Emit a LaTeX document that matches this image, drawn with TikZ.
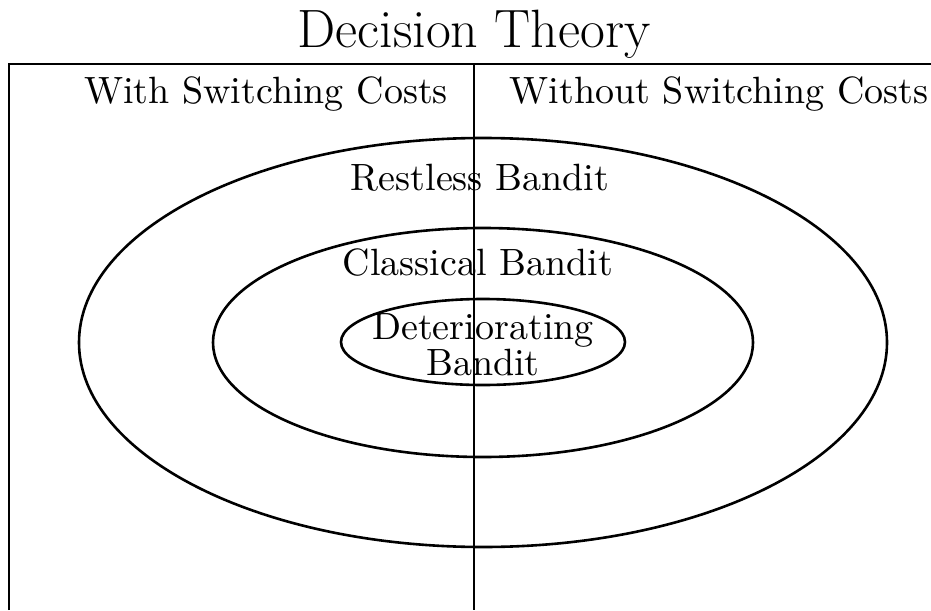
\documentclass[tikz,border=0pt]{standalone}
\usetikzlibrary{positioning,shapes.geometric}

\font\lblfont="[lmroman10-regular]:+tlig;" at 19pt
\newcommand\lblsize{\lblfont\baselineskip=18pt\relax}

\begin{document}
\begin{tikzpicture}[
  x=0.5pt, y=-0.5pt,
  frame/.style={line width=1.3pt},
  ring/.style={draw, ellipse, line width=1.3pt, inner sep=0pt},
  title/.style={font=\fontsize{27}{30}\selectfont, anchor=base},
  lbl/.style={font=\lblsize, anchor=base, align=center}
]
\useasboundingbox (0,0) rectangle (931,610);

% frame and divider
\coordinate (tl) at (9,64);
\coordinate (tr) at (931,64);
\coordinate (bl) at (9,610);
\coordinate (dtop) at (474,64);
\coordinate (dbot) at (474,610);
\draw[frame] (bl) -- (tl) -- (tr);
\draw[frame] (dtop) -- (dbot);

% nested sets
\node[ring, minimum width=404pt, minimum height=204.5pt] (restless) at (483,342.5) {};
\node[ring, minimum width=270pt, minimum height=114.5pt] (classical) at (483,342.5) {};
\node[ring, minimum width=142pt, minimum height=43pt] (deter) at (483,342) {};

% labels
\node[title] (dt) at (474,48) {Decision Theory};
\node[lbl] (with) at (266,104) {With Switching Costs};
\node[lbl] (without) at (719,104) {Without Switching Costs};
\node[lbl] (rb) at (480,190) {Restless Bandit};
\node[lbl] (cb) at (478,275) {Classical Bandit};
\node[lbl, anchor=center] (db) at (483,345) {Deteriorating\\Bandit};
\end{tikzpicture}
\end{document}
